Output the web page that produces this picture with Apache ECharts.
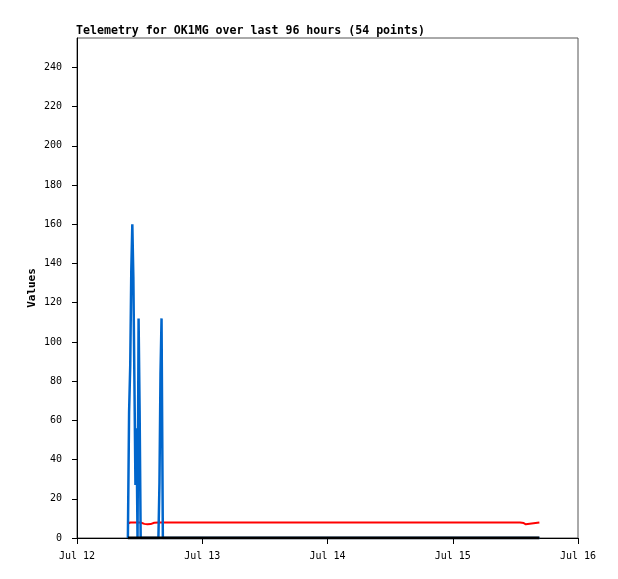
<!DOCTYPE html>
<html>
<head>
<meta charset="utf-8">
<script src="https://cdn.jsdelivr.net/npm/echarts@6/dist/echarts.min.js"></script>
<style>
  html, body { margin: 0; padding: 0; background: #fff; }
  #chart { width: 618px; height: 579px; }
</style>
</head>
<body>
<div id="chart"></div>
<script>
// hours since Jul 12 00:00
var hours = [9.75, 9.98, 10.2, 10.4, 10.6, 10.8, 11.0, 11.2, 11.4, 11.6, 11.8, 12.0, 12.2,
  12.9, 13.5, 14.1, 14.8, 15.6, 15.8, 16.0, 16.2, 16.45,
  18.5, 21, 23.5, 26, 28.5, 31, 33.5, 36, 38.5, 41, 43.5, 46, 48.5, 51, 53.5, 56,
  58.5, 61, 63.5, 66, 68.5, 71, 73.5, 76, 78.5, 81,
  84.9, 85.2, 85.6, 86.0, 86.3, 88.6];
var blueValues = [0, 64, 88, 136, 160, 133, 80, 27, 56, 0, 112, 65, 0,
  0, 0, 0, 0, 0, 28, 84, 112, 0,
  0, 0, 0, 0, 0, 0, 0, 0, 0, 0, 0, 0, 0, 0, 0, 0,
  0, 0, 0, 0, 0, 0, 0, 0, 0, 0,
  0, 0, 0, 0, 0, 0];
var redValues = [7.3, 7.7, 7.9, 7.9, 7.9, 7.9, 7.9, 7.9, 7.9, 7.9, 7.9, 7.9, 7.9,
  7.2, 7.0, 7.1, 7.8, 7.9, 7.9, 7.9, 7.9, 7.9,
  7.9, 7.9, 7.9, 7.9, 7.9, 7.9, 7.9, 7.9, 7.9, 7.9, 7.9, 7.9, 7.9, 7.9, 7.9, 7.9,
  7.9, 7.9, 7.9, 7.9, 7.9, 7.9, 7.9, 7.9, 7.9, 7.9,
  7.9, 7.0, 7.6, 7.0, 7.9, 7.9];
var blackValues = hours.map(function () { return 0; });
var xTicks = [0, 24, 48, 72, 96];
var xTickLabels = ['Jul 12', 'Jul 13', 'Jul 14', 'Jul 15', 'Jul 16'];
var yTicks = [0, 20, 40, 60, 80, 100, 120, 140, 160, 180, 200, 220, 240];

function pairs(vals) {
  return hours.map(function (h, i) { return [h, vals[i]]; });
}

var font = 'DejaVu Sans Mono';
var myChart = echarts.init(document.getElementById('chart'));
var option = {
  backgroundColor: '#fff',
  animation: false,
  title: {
    text: 'Telemetry for OK1MG over last 96 hours (54 points)',
    left: 76,
    top: 25,
    padding: 0,
    textStyle: { fontFamily: font, fontSize: 11.6, fontWeight: 'bold', color: '#000' }
  },
  grid: {
    left: 77, right: 40, top: 38, bottom: 41,
    show: true, borderColor: '#555', borderWidth: 1
  },
  xAxis: {
    type: 'value',
    min: 0,
    max: 96,
    interval: 24,
    splitLine: { show: false },
    axisLine: { lineStyle: { color: '#000', width: 1 } },
    axisTick: { length: 6, lineStyle: { color: '#000' }, customValues: xTicks },
    axisLabel: {
      customValues: xTicks,
      margin: 13,
      fontFamily: font, fontSize: 10, color: '#000',
      formatter: function (v) { return xTickLabels[xTicks.indexOf(v)]; }
    }
  },
  yAxis: {
    type: 'value',
    min: 0,
    max: 255,
    name: 'Values',
    nameLocation: 'middle',
    nameGap: 39,
    nameMoveOverlap: false,
    nameRotate: 90,
    nameTextStyle: { fontFamily: font, fontSize: 11, fontWeight: 'bold', color: '#000' },
    splitLine: { show: false },
    axisLine: { show: true, lineStyle: { color: '#000', width: 1 } },
    axisTick: { show: true, length: 5, lineStyle: { color: '#000' }, customValues: yTicks },
    axisLabel: { customValues: yTicks, margin: 15, fontFamily: font, fontSize: 10, color: '#000' }
  },
  series: [
    { name: 'red', type: 'line', data: pairs(redValues), symbol: 'none',
      lineStyle: { color: '#ff0000', width: 2 }, itemStyle: { color: '#ff0000' } },
    { name: 'blue', type: 'line', step: 'end', data: pairs(blueValues), symbol: 'none',
      lineStyle: { color: '#0066cc', width: 2.5 }, itemStyle: { color: '#0066cc' } },
    { name: 'black', type: 'line', data: pairs(blackValues), symbol: 'none',
      lineStyle: { color: '#000', width: 3 }, itemStyle: { color: '#000' } }
  ]
};
myChart.setOption(option);
</script>
</body>
</html>
